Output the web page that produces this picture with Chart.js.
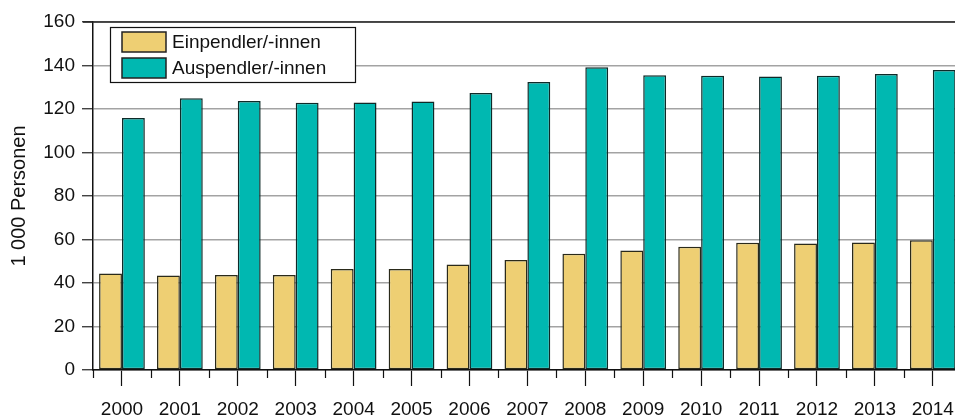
<!DOCTYPE html>
<html>
<head>
<meta charset="utf-8">
<script src="https://cdn.jsdelivr.net/npm/chart.js@4/dist/chart.umd.min.js"></script>
<style>
    html, body { margin: 0; padding: 0; background: #fff; overflow: hidden; }
    #wrap { position: absolute; left: 0; top: 0; width: 966px; height: 417px; }
</style>
</head>
<body>
<div id="wrap"><canvas id="pendlerChart" width="966" height="417"></canvas></div>
<script>
const years = ['2000', '2001', '2002', '2003', '2004', '2005', '2006', '2007',
    '2008', '2009', '2010', '2011', '2012', '2013', '2014'];
const einpendler = [44.4, 43.4, 43.7, 43.7, 46.4, 46.4, 48.5, 50.6, 53.4, 54.9, 56.7, 58.5, 58.2, 58.6, 59.6];
const auspendler = [115.9, 124.9, 123.7, 122.9, 123.0, 123.5, 127.4, 132.4, 139.2, 135.5, 135.3, 134.9, 135.3, 136.1, 137.9];
const yTicks = [0, 20, 40, 60, 80, 100, 120, 140, 160];

const FONT = "'Liberation Sans', Arial, sans-serif";

// extra bits: top frame line, short ticks between the years, framed legend
const decorations = {
    id: 'decorations',
    afterDraw(chart) {
        const {ctx, chartArea} = chart;
        const x = chart.scales.x;
        ctx.save();

        ctx.strokeStyle = '#222';
        ctx.lineWidth = 1.5;
        ctx.beginPath();
        ctx.moveTo(chartArea.left - 10, chartArea.top);
        ctx.lineTo(chartArea.right, chartArea.top);
        ctx.stroke();

        // short ticks on the category boundaries
        const step = x.getPixelForValue(1) - x.getPixelForValue(0);
        ctx.lineWidth = 1.2;
        ctx.strokeStyle = '#111';
        for (let i = 0; i <= years.length; i++) {
            const px = Math.round(x.getPixelForValue(i) - step / 2) + 0.5;
            ctx.beginPath();
            ctx.moveTo(px, chartArea.bottom);
            ctx.lineTo(px, chartArea.bottom + 8);
            ctx.stroke();
        }

        // legend
        const lx = 110, ly = 27, lw = 245, lh = 55;
        ctx.fillStyle = '#fff';
        ctx.fillRect(lx, ly, lw, lh);
        ctx.strokeStyle = '#111';
        ctx.lineWidth = 1.2;
        ctx.strokeRect(lx + 0.5, ly + 0.5, lw, lh);
        ctx.font = '19px ' + FONT;
        ctx.textBaseline = 'middle';
        chart.data.datasets.forEach((ds, i) => {
            const sy = 32 + i * 26;
            ctx.fillStyle = ds.backgroundColor;
            ctx.fillRect(122, sy, 44, 20);
            ctx.strokeStyle = '#222';
            ctx.lineWidth = 1.5;
            ctx.strokeRect(122, sy, 44, 20);
            ctx.fillStyle = '#111';
            ctx.fillText(ds.label, 172, sy + 11);
        });
        ctx.restore();
    }
};

new Chart(document.getElementById('pendlerChart'), {
    type: 'bar',
    data: {
        labels: years,
        datasets: [
            {
                label: 'Einpendler/-innen',
                data: einpendler,
                backgroundColor: '#eecf73',
                borderColor: '#2a2a1a',
                borderWidth: 1.5,
                borderSkipped: false,
                categoryPercentage: 0.79,
                barPercentage: 1.0,
            },
            {
                label: 'Auspendler/-innen',
                data: auspendler,
                backgroundColor: '#00b8b1',
                borderColor: '#0f2a28',
                borderWidth: 1.5,
                borderSkipped: false,
                categoryPercentage: 0.79,
                barPercentage: 1.0,
            }
        ]
    },
    options: {
        responsive: false,
        animation: false,
        layout: {
            padding: {left: 0, top: 22, right: 2, bottom: 0}
        },
        plugins: {
            legend: {display: false},
            tooltip: {enabled: false},
        },
        scales: {
            x: {
                offset: true,
                grid: {
                    offset: false,
                    drawOnChartArea: false,
                    tickLength: 16,
                    tickColor: '#111',
                    tickWidth: 1.2,
                },
                border: {display: true, color: '#111', width: 1.5},
                ticks: {
                    color: '#111',
                    padding: 12,
                    maxRotation: 0,
                    autoSkip: false,
                    font: {family: FONT, size: 19},
                },
                afterFit(scale) {
                    scale.height = 47;
                }
            },
            y: {
                min: 0,
                max: 160,
                afterBuildTicks(scale) {
                    scale.ticks = yTicks.map(v => ({value: v}));
                },
                grid: {
                    color: '#a3a3a3',
                    lineWidth: 1.5,
                    tickLength: 11,
                    tickColor: '#222',
                    tickWidth: 1.2,
                },
                border: {display: true, color: '#111', width: 1.5},
                ticks: {
                    color: '#111',
                    padding: 7,
                    font: {family: FONT, size: 19},
                },
                title: {
                    display: true,
                    text: '1 000 Personen',
                    color: '#111',
                    padding: {top: 7, bottom: 0},
                    font: {family: FONT, size: 20},
                },
                afterFit(scale) {
                    scale.width = 93;
                }
            }
        }
    },
    plugins: [decorations]
});
</script>
</body>
</html>
